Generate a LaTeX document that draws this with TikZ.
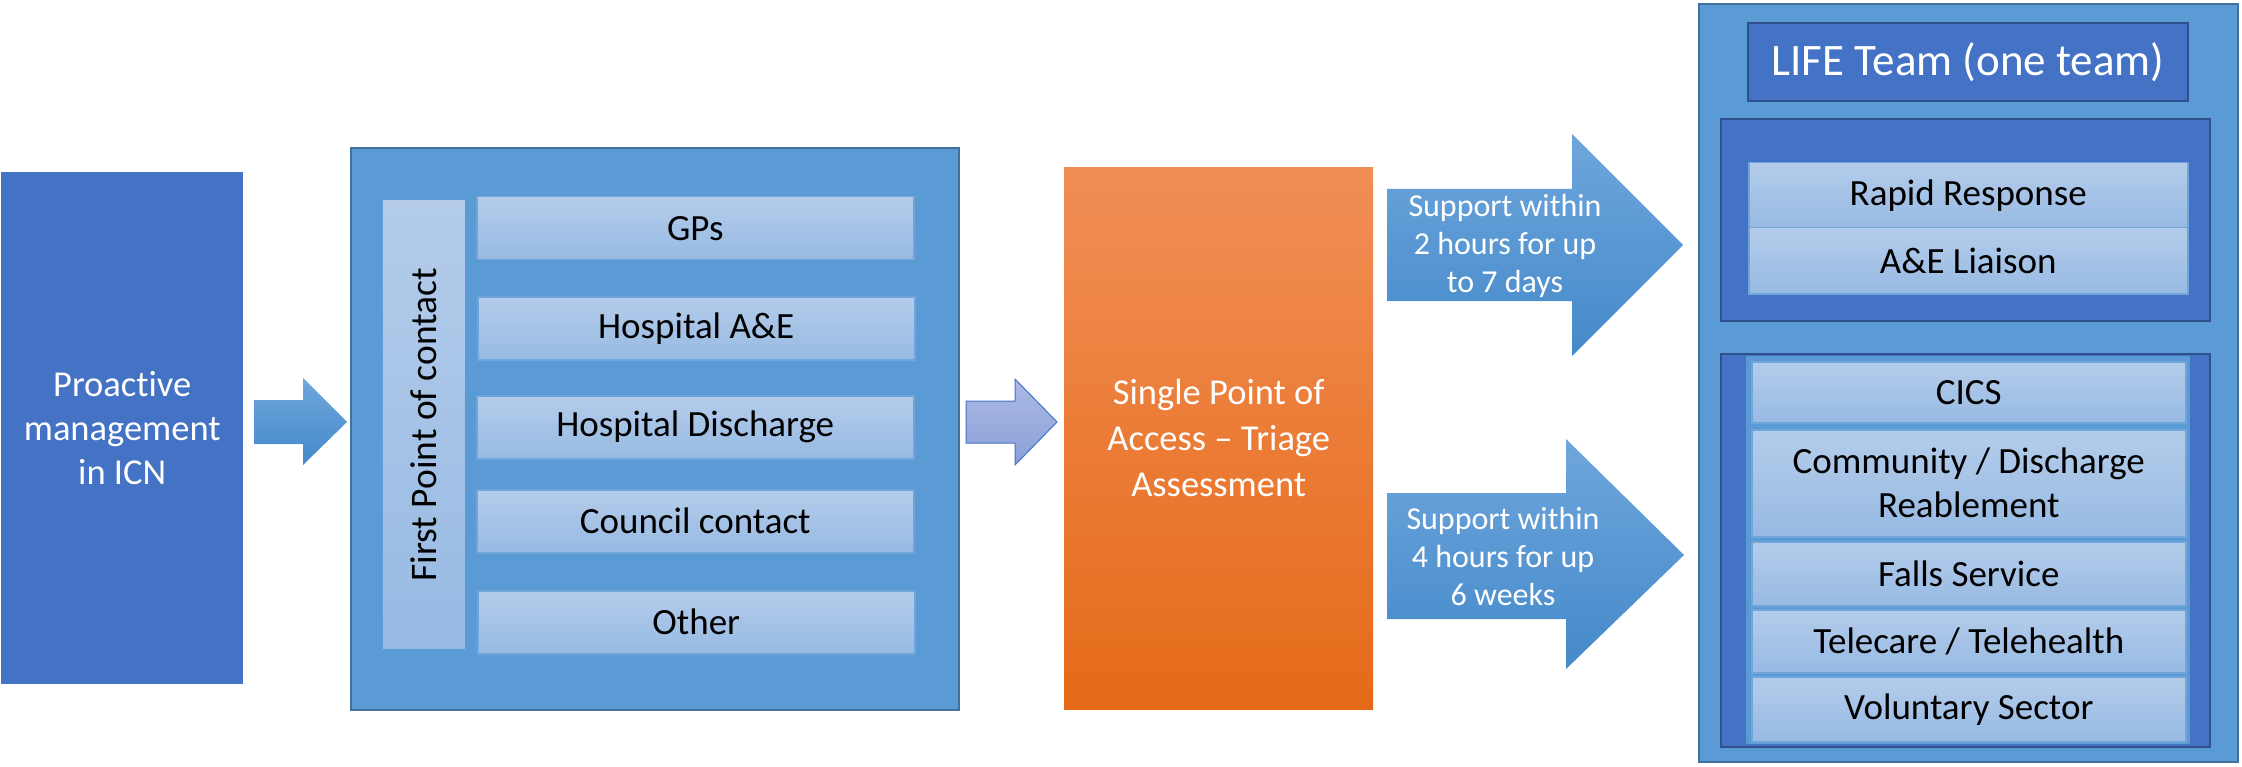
\documentclass[tikz,border=0pt]{standalone}
\usepackage{fontspec}
\setmainfont{Carlito}[Ligatures={TeX,NoCommon,NoContextual}, RawFeature={-calt;-dlig}]
\usetikzlibrary{positioning}

\definecolor{darkblue}{RGB}{68,114,196}
\definecolor{midblue}{RGB}{91,155,213}
\definecolor{edgeblue}{RGB}{65,113,156}
\definecolor{navyedge}{RGB}{47,82,143}
\definecolor{itemtop}{RGB}{180,204,234}
\definecolor{itembot}{RGB}{151,186,227}
\definecolor{itemedge}{RGB}{112,165,219}
\definecolor{arrowtop}{RGB}{111,166,220}
\definecolor{arrowbot}{RGB}{68,137,202}
\definecolor{violettop}{RGB}{172,186,228}
\definecolor{violetbot}{RGB}{138,160,215}
\definecolor{orangetop}{RGB}{241,142,86}
\definecolor{orangebot}{RGB}{229,106,24}

\tikzset{
    box/.style={anchor=north west, inner sep=0pt, align=center},
    panel/.style={box, draw=edgeblue, line width=2pt, fill=midblue},
    darkpanel/.style={box, draw=navyedge, line width=2pt, fill=darkblue},
    item/.style={box, draw=itemedge, line width=1.5pt, top color=itemtop, bottom color=itembot,
        text=black, font=\fontsize{37}{44}\selectfont},
    blockarrow/.style={top color=arrowtop, bottom color=arrowbot},
}

\begin{document}
\begin{tikzpicture}[x=1pt, y=-1pt]
    \useasboundingbox (0,0) rectangle (2242,767);

    % Left: proactive management
    \node[box, fill=darkblue, text=white, font=\fontsize{36.5}{44}\selectfont,
        minimum width=242pt, minimum height=512pt] (proactive) at (1,172) {Proac\kern0pt tive\\management\\in ICN};
    \shade[blockarrow] (254,400) -- (303,400) -- (303,378) -- (347,422) -- (303,465) -- (303,444) -- (254,444) -- cycle;

    % First point of contact
    \begin{scope}
        \node[panel, minimum width=608pt, minimum height=562pt] (contact) at (350,147) {};
        \node[item, draw=none, minimum width=82pt, minimum height=448pt] (firstpoint) at (382,200) {};
        \node[rotate=90, text=black, font=\fontsize{37.5}{44}\selectfont] (firstlabel) at (firstpoint.center) {First Point of contact};
        \node[item, minimum width=437pt, minimum height=63pt] (gps) at (476,196) {GPs};
        \node[item, minimum width=437pt, minimum height=63pt] (hospae) at (477,296) {Hospital A\&E};
        \node[item, minimum width=437pt, minimum height=63pt] (discharge) at (476,395) {Hospital Discharge};
        \node[item, minimum width=437pt, minimum height=63pt] (council) at (476,489) {Council contact};
        \node[item, minimum width=437pt, minimum height=63pt] (other) at (477,590) {Other};
    \end{scope}
    \shade[top color=violettop, bottom color=violetbot, draw=darkblue, line width=1pt]
        (966,401) -- (1015,401) -- (1015,379) -- (1057,422) -- (1015,465) -- (1015,443) -- (966,443) -- cycle;

    % Single point of access
    \node[box, top color=orangetop, bottom color=orangebot, text=white, font=\fontsize{36.5}{46}\selectfont,
        minimum width=309pt, minimum height=542pt] (triage) at (1064,167) {Single Point of\\Access – Triage\\Assessment};

    % Response arrows
    \shade[blockarrow] (1387,189) -- (1572,189) -- (1572,134) -- (1683,245) -- (1572,356) -- (1572,301) -- (1387,301) -- cycle;
    \node[align=center, text=white, font=\fontsize{32}{38}\selectfont] (fast) at (1505,246) {Support within\\2 hours for up\\to 7 days};
    \shade[blockarrow] (1387,493) -- (1566,493) -- (1566,439) -- (1684,555) -- (1566,669) -- (1566,619) -- (1387,619) -- cycle;
    \node[align=center, text=white, font=\fontsize{32}{38}\selectfont] (slow) at (1503,557) {Support within\\4 hours for up\\6 weeks};

    % LIFE team
    \begin{scope}
        \node[panel, minimum width=539pt, minimum height=758pt] (life) at (1698,3) {};
        \node[darkpanel, text=white, font=\fontsize{45}{52}\selectfont,
            minimum width=440pt, minimum height=78pt] (title) at (1747,22) {LIFE Team (one team)};
        % rapid services
        \node[darkpanel, minimum width=489pt, minimum height=202pt] (rapid) at (1720,118) {};
        \node[item, minimum width=439pt, minimum height=65pt] (response) at (1748,162) {Rapid Response};
        \node[item, minimum width=439pt, minimum height=66pt] (liaison) at (1748,227) {A\&E Liaison};
        % longer term services
        \node[darkpanel, minimum width=489pt, minimum height=393pt] (longer) at (1720,353) {};
        \node[box, fill=midblue, minimum width=444pt, minimum height=388pt] (stack) at (1746,356) {};
        \node[item, minimum width=434pt, minimum height=61pt] (cics) at (1751,361) {CICS};
        \node[item, minimum width=434pt, minimum height=107pt] (reablement) at (1751,429) {Community / Discharge\\Reablement};
        \node[item, minimum width=434pt, minimum height=64pt] (falls) at (1751,541) {Falls Service};
        \node[item, minimum width=434pt, minimum height=63pt] (telecare) at (1751,609) {Telecare / Telehealth};
        \node[item, minimum width=434pt, minimum height=65pt] (voluntary) at (1751,676) {Voluntary Sector};
    \end{scope}
\end{tikzpicture}
\end{document}
